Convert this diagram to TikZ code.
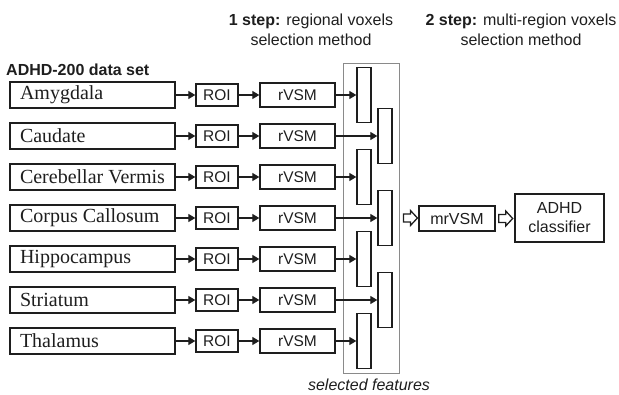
\documentclass[tikz,border=0pt]{standalone}
\usepackage{fontspec}
\setmainfont{Liberation Serif}
\setsansfont{Liberation Sans}
\newfontfamily\regionfont{Liberation Serif}
\usetikzlibrary{arrows.meta,calc}
\definecolor{ink}{HTML}{1E1E1E}
\definecolor{frame}{HTML}{8A8A8A}

\begin{document}
\begin{tikzpicture}[x=1pt,y=-1pt,
  box/.style={draw=ink,line width=1.4pt,inner sep=0pt,text=ink},
  namebox/.style={box,minimum width=165pt,minimum height=26pt,inner xsep=10pt,
    font=\regionfont\fontsize{20}{22}\selectfont},
  roibox/.style={box,minimum width=42pt,minimum height=22pt,font=\sffamily\fontsize{15.5}{18}\selectfont},
  vsmbox/.style={box,minimum width=75pt,minimum height=24pt,font=\sffamily\fontsize{15.5}{18}\selectfont},
  featbar/.style={draw=ink,line width=1.4pt,minimum width=14pt,minimum height=55pt,inner sep=0pt},
  arr/.style={draw=ink,line width=1.3pt,-{Triangle[length=7pt,width=8pt]}},
  heading/.style={align=center,text=ink,font=\sffamily\fontsize{16}{20}\selectfont},
  hollowarrow/.pic={\draw[ink,line width=1.3pt,line join=miter]
    (0,-4) -- (7,-4) -- (7,-7.5) -- (14,0) -- (7,7.5) -- (7,4) -- (0,4) -- cycle;}
]
\useasboundingbox (0,0) rectangle (619,395);

% step headings
\node[heading] (h1) at (311,29.5) {\textbf{1 step:} regional voxels\\selection method};
\node[heading] (h2) at (521,29.5) {\textbf{2 step:} multi-region voxels\\selection method};
\node[anchor=west,inner sep=0pt,text=ink,font=\sffamily\bfseries\fontsize{16}{18}\selectfont]
  (data) at (6,70) {ADHD-200 data set};

% frame holding the selected feature vectors
\node[draw=frame,line width=0.9pt,minimum width=56pt,minimum height=310pt,inner sep=0pt]
  (sel) at (371,218) {};
\node[text=ink,font=\sffamily\itshape\fontsize{16}{18}\selectfont] (selcap) at (369,385) {selected features};

% one pipeline per brain region
\foreach \i/\name/\y/\bx in {1/Amygdala/95/364, 2/Caudate/136/385, 3/Cerebellar Vermis/177/364,
    4/Corpus Callosum/218/385, 5/Hippocampus/259/364, 6/Striatum/300/385, 7/Thalamus/341/364}{
  \node[namebox] (n\i) at (92.5,\y) {\makebox[145pt][l]{\name}};
  \node[roibox] (roi\i) at (217,\y) {ROI};
  \node[vsmbox] (v\i) at (297.5,\y) {rVSM};
  \node[featbar] (f\i) at (\bx,\y) {};
  \draw[arr] (n\i.east) -- (roi\i.west);
  \draw[arr] (roi\i.east) -- (v\i.west);
  \draw[arr] (v\i.east) -- (f\i.west);
}

% second step
\node[box,minimum width=76pt,minimum height=25pt,font=\sffamily\fontsize{16}{18}\selectfont]
  (mr) at (457,218.5) {mrVSM};
\node[box,minimum width=89pt,minimum height=48pt,align=center,font=\sffamily\fontsize{16}{19}\selectfont]
  (cls) at (559.5,218) {ADHD\\classifier};
\pic at ($(sel.east)+(4,0)$) {hollowarrow};
\pic at ($(mr.east)+(3,0)$) {hollowarrow};
\end{tikzpicture}
\end{document}
